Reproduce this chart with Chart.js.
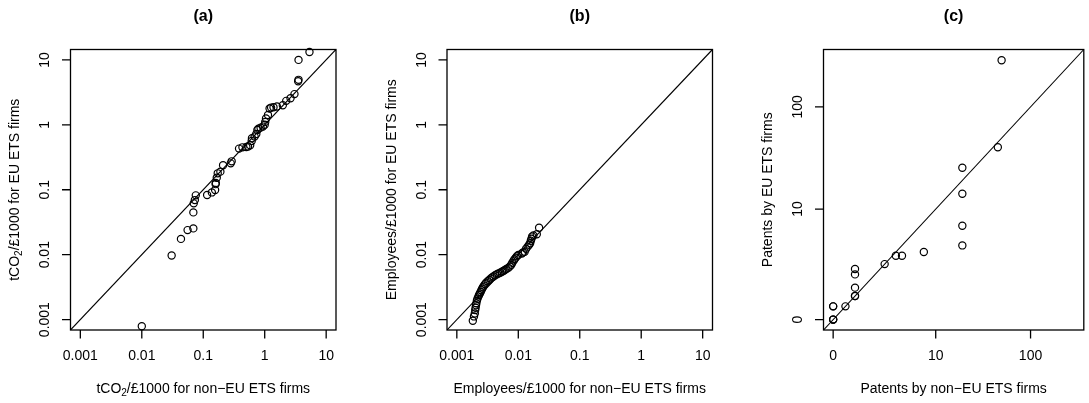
<!DOCTYPE html>
<html><head><meta charset="utf-8">
<script src="https://cdn.jsdelivr.net/npm/chart.js@4"></script>
<style>
html,body{margin:0;padding:0;background:#fff;}
#wrap{position:relative;width:1089px;height:403px;overflow:hidden;background:#fff;}
canvas{position:absolute;left:0;top:0;}
</style></head><body>
<div id="wrap">
<canvas id="ca" width="1089" height="403"></canvas>
<canvas id="cb" width="1089" height="403"></canvas>
<canvas id="cc" width="1089" height="403"></canvas>
</div>
<script>
// ---------- data (sorted quantiles) ----------
const panelTitles = ['(a)', '(b)', '(c)'];

// (a) tCO2 per £1000
const aNonEU = [0.0100, 0.0306, 0.0434, 0.0556, 0.0690, 0.0690, 0.0700, 0.0730, 0.0756, 0.1156,
  0.138, 0.156, 0.159, 0.160, 0.166, 0.172, 0.190, 0.210, 0.280, 0.290,
  0.382, 0.434, 0.503, 0.536, 0.580, 0.614, 0.620, 0.686, 0.730, 0.760,
  0.790, 0.857, 0.935, 1.00, 1.02, 1.05, 1.13, 1.20, 1.27, 1.39,
  1.58, 1.97, 2.24, 2.63, 3.05, 3.50, 3.55, 3.55, 5.35];
const aEU = [0.00079, 0.0097, 0.0175, 0.0239, 0.0254, 0.0448, 0.0617, 0.0693, 0.082, 0.0828,
  0.091, 0.099, 0.122, 0.127, 0.153, 0.179, 0.190, 0.238, 0.255, 0.274,
  0.430, 0.450, 0.456, 0.465, 0.484, 0.565, 0.621, 0.658, 0.724, 0.834,
  0.870, 0.905, 0.938, 1.00, 1.11, 1.25, 1.42, 1.78, 1.84, 1.86,
  1.91, 2.00, 2.34, 2.57, 2.97, 4.70, 4.93, 10.0, 13.2];

// (b) employees per £1000
const bNonEU = [0.00182, 0.00190, 0.00196, 0.00199, 0.00202, 0.00205, 0.00208, 0.00212, 0.00217, 0.00224,
  0.00230, 0.00237, 0.00244, 0.00251, 0.00258, 0.00266, 0.00276, 0.00287, 0.00300, 0.00318,
  0.00336, 0.00353, 0.00373, 0.00394, 0.00420, 0.00448, 0.00475, 0.00508, 0.00540, 0.00572,
  0.00602, 0.00640, 0.00690, 0.00730, 0.00770, 0.00800, 0.00840, 0.00870, 0.00910, 0.00950,
  0.01000, 0.01140, 0.01190, 0.01270, 0.01340, 0.01420, 0.01500, 0.01560, 0.01600, 0.01640,
  0.01680, 0.01760, 0.02000, 0.02180];
const bEU = [0.00096, 0.00112, 0.00124, 0.00140, 0.00152, 0.00166, 0.00178, 0.00196, 0.00209, 0.00226,
  0.00240, 0.00252, 0.00266, 0.00283, 0.00300, 0.00316, 0.00334, 0.00352, 0.00371, 0.00390,
  0.00408, 0.00428, 0.00447, 0.00462, 0.00483, 0.00500, 0.00514, 0.00526, 0.00546, 0.00562,
  0.00580, 0.00601, 0.00627, 0.00660, 0.00700, 0.00752, 0.00810, 0.00850, 0.00900, 0.00950,
  0.00990, 0.01040, 0.01080, 0.01110, 0.01230, 0.01330, 0.01420, 0.01500, 0.01640, 0.01760,
  0.01900, 0.01980, 0.02060, 0.02600];

// (c) patents
const cNonEU = [0, 0, 0, 0, 0, 0.333, 0.667, 0.667, 0.667, 0.667, 0.667, 2.333, 3.333, 4, 7.333,
  19.5, 19.5, 19.5, 19.5, 46, 50.333];
const cEU = [0, 0, 0, 0.333, 0.333, 0.333, 0.667, 0.667, 1, 1.667, 2, 2.333, 3, 3, 3.333,
  4, 6.667, 14.333, 26, 41, 277];

// ticks
const logTicks = [0.001, 0.01, 0.1, 1, 10];
const logTickLabels = ['0.001', '0.01', '0.1', '1', '10'];
const patentTicks = [0, 10, 100];
const patentTickLabels = ['0', '10', '100'];

// axis limits (R style, 4% extension)
const logLimits = [Math.pow(10, -3.16), Math.pow(10, 1.16)];
const patentLimits = [-0.098, 2.545]; // in log10(1 + value)

// axis titles: [text, isSubscript]
const xAxisTitles = [
  [['tCO', 0], ['2', 1], ['/£1000 for non\u2212EU ETS firms', 0]],
  [['Employees/£1000 for non\u2212EU ETS firms', 0]],
  [['Patents by non\u2212EU ETS firms', 0]]
];
const yAxisTitles = [
  [['tCO', 0], ['2', 1], ['/£1000 for EU ETS firms', 0]],
  [['Employees/£1000 for EU ETS firms', 0]],
  [['Patents by EU ETS firms', 0]]
];

// ---------- layout ----------
const W = 1089, H = 403;
const boxes = [
  {left: 70.5, top: 49.5, right: 336, bottom: 330},
  {left: 447, top: 49.5, right: 712.5, bottom: 330},
  {left: 823.5, top: 49.5, right: 1089, bottom: 330}
];
const FONT = '"Liberation Sans", Arial, Helvetica, sans-serif';
const FS = 14;

function drawRich(ctx, parts, cx, cy, size) {
  const sub = size * 0.72;
  let total = 0;
  const widths = parts.map(p => {
    ctx.font = (p[1] ? sub : size) + 'px ' + FONT;
    const w = ctx.measureText(p[0]).width; total += w; return w;
  });
  let x = cx - total / 2;
  ctx.textAlign = 'left';
  parts.forEach((p, i) => {
    ctx.font = (p[1] ? sub : size) + 'px ' + FONT;
    ctx.textBaseline = 'middle';
    ctx.fillText(p[0], x, cy + (p[1] ? size * 0.28 : 0));
    x += widths[i];
  });
}

function framePlugin(idx, ticks, tickLabels, tf) {
  return {
    id: 'rframe' + idx,
    afterDraw(chart) {
      const ctx = chart.ctx, a = chart.chartArea;
      const xs = chart.scales.x, ys = chart.scales.y;
      ctx.save();
      ctx.strokeStyle = '#000';
      ctx.fillStyle = '#000';
      ctx.lineWidth = 1.3;
      ctx.strokeRect(a.left, a.top, a.right - a.left, a.bottom - a.top);
      const TL = 8.5;
      ctx.beginPath();
      const xp = ticks.map(v => xs.getPixelForValue(tf(v)));
      const yp = ticks.map(v => ys.getPixelForValue(tf(v)));
      xp.forEach(p => { ctx.moveTo(p, a.bottom); ctx.lineTo(p, a.bottom + TL); });
      yp.forEach(p => { ctx.moveTo(a.left, p); ctx.lineTo(a.left - TL, p); });
      ctx.stroke();
      ctx.font = FS + 'px ' + FONT;
      ctx.textAlign = 'center';
      ctx.textBaseline = 'middle';
      xp.forEach((p, i) => ctx.fillText(tickLabels[i], p, a.bottom + 26));
      yp.forEach((p, i) => {
        ctx.save();
        ctx.translate(a.left - 25, p);
        ctx.rotate(-Math.PI / 2);
        ctx.textAlign = 'center';
        ctx.fillText(tickLabels[i], 0, 0);
        ctx.restore();
      });
      // axis titles
      drawRich(ctx, xAxisTitles[idx], (a.left + a.right) / 2, a.bottom + 59, FS);
      ctx.save();
      ctx.translate(a.left - 55, (a.top + a.bottom) / 2);
      ctx.rotate(-Math.PI / 2);
      drawRich(ctx, yAxisTitles[idx], 0, 0, FS);
      ctx.restore();
      // main title
      ctx.font = 'bold 16px ' + FONT;
      ctx.textAlign = 'center';
      ctx.textBaseline = 'middle';
      ctx.fillText(panelTitles[idx], (a.left + a.right) / 2, 17);
      ctx.restore();
    }
  };
}

function makePanel(canvasId, idx, xsData, ysData, scaleType, limits, ticks, tickLabels, tf) {
  const b = boxes[idx];
  const pts = xsData.map((v, i) => ({x: tf(v), y: tf(ysData[i])}));
  new Chart(document.getElementById(canvasId), {
    type: 'scatter',
    data: {
      datasets: [
        {
          data: [{x: limits[0], y: limits[0]}, {x: limits[1], y: limits[1]}],
          showLine: true, pointRadius: 0, borderColor: '#000', borderWidth: 1.1,
          backgroundColor: 'rgba(0,0,0,0)'
        },
        {
          data: pts, showLine: false, pointStyle: 'circle', pointRadius: 3.6,
          pointBorderWidth: 1.2, pointBorderColor: '#000',
          pointBackgroundColor: 'rgba(0,0,0,0)', borderColor: '#000',
          backgroundColor: 'rgba(0,0,0,0)', clip: 4
        }
      ]
    },
    options: {
      responsive: false, animation: false, events: [],
      devicePixelRatio: 1,
      layout: {padding: {left: b.left, top: b.top, right: W - b.right, bottom: H - b.bottom}},
      plugins: {legend: {display: false}, tooltip: {enabled: false}, title: {display: false}},
      scales: {
        x: {type: scaleType, min: limits[0], max: limits[1], display: false},
        y: {type: scaleType, min: limits[0], max: limits[1], display: false}
      }
    },
    plugins: [framePlugin(idx, ticks, tickLabels, tf)]
  });
}

const ident = v => v;
const log1p10 = v => Math.log10(1 + v);
makePanel('ca', 0, aNonEU, aEU, 'logarithmic', logLimits, logTicks, logTickLabels, ident);
makePanel('cb', 1, bNonEU, bEU, 'logarithmic', logLimits, logTicks, logTickLabels, ident);
makePanel('cc', 2, cNonEU, cEU, 'linear', patentLimits, patentTicks, patentTickLabels, log1p10);
</script>
</body></html>
